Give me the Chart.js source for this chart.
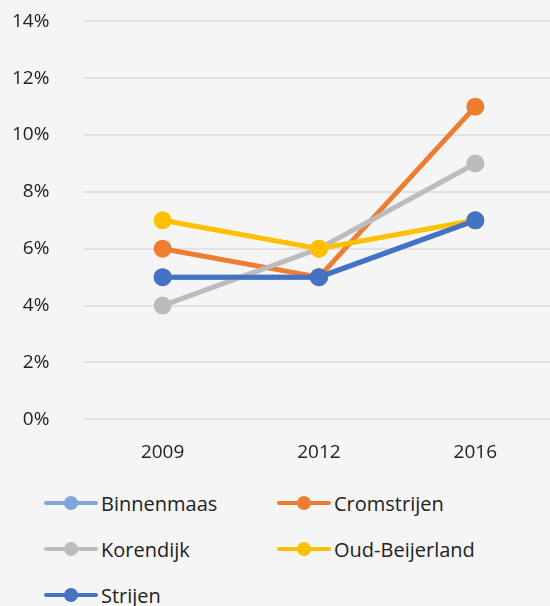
<!DOCTYPE html>
<html>
<head>
<meta charset="utf-8">
<script src="https://cdn.jsdelivr.net/npm/chart.js@4/dist/chart.umd.min.js"></script>
<style>
  html, body { margin: 0; padding: 0; background: #f5f5f5; }
  body { width: 550px; height: 606px; overflow: hidden; font-family: "Open Sans", sans-serif; color: #222; }
  #wrap { position: relative; width: 550px; height: 470px; overflow: hidden; }
  #myChart { position: absolute; left: -3px; top: -25px; }
  #legend { position: relative; width: 550px; height: 136px; }
  .item { position: absolute; height: 30px; display: flex; align-items: center; font-size: 20px; }
  .sw { position: relative; width: 54px; height: 30px; margin-right: 3px; }
  .sw .ln { position: absolute; left: 0; right: 0; top: 13px; height: 4px; border-radius: 2px; }
  .sw .dt { position: absolute; left: 20px; top: 8px; width: 14px; height: 14px; border-radius: 50%; }
</style>
</head>
<body>
<div id="wrap"><canvas id="myChart" width="568" height="495"></canvas></div>
<div id="legend"></div>
<script>
const years = ["2009", "2012", "2016"];
const seriesNames = ["Binnenmaas", "Cromstrijen", "Korendijk", "Oud-Beijerland", "Strijen"];
const seriesColors = ["#7fa7d8", "#ed7d31", "#bcbcbc", "#ffc000", "#4472c4"];
const binnenmaas = [5, 5, 7];
const cromstrijen = [6, 5, 11];
const korendijk = [4, 6, 9];
const oudBeijerland = [7, 6, 7];
const strijen = [5, 5, 7];
const yTicks = [0, 2, 4, 6, 8, 10, 12, 14];

const allValues = [binnenmaas, cromstrijen, korendijk, oudBeijerland, strijen];

// later series sit on top, like in the original
let datasets = seriesNames.map(function(name, i) {
  return {
    label: name,
    data: allValues[i],
    order: seriesNames.length - i,
    borderColor: seriesColors[i],
    backgroundColor: seriesColors[i],
    pointBackgroundColor: seriesColors[i],
    pointBorderColor: seriesColors[i],
    borderWidth: 5,
    pointRadius: 6.5,
    pointHoverRadius: 6.5,
    tension: 0
  };
});

let ctx = document.getElementById("myChart").getContext("2d");
let chart = new Chart(ctx, {
  type: "line",
  data: { labels: years, datasets: datasets },
  options: {
    responsive: false,
    animation: false,
    // chart.js leaves extra room round the axes, pull it back
    layout: { padding: { left: -20, right: -5, top: 0, bottom: -16 } },
    plugins: { legend: { display: false }, tooltip: { enabled: false } },
    scales: {
      x: {
        offset: true,
        grid: { display: false, drawTicks: false },
        border: { display: false },
        ticks: { color: "#222", padding: 22, font: { family: "Open Sans", size: 19 } }
      },
      y: {
        min: 0,
        max: 14,
        afterBuildTicks: function(axis) {
          axis.ticks = yTicks.map(function(v) { return { value: v }; });
        },
        grid: { color: "#e2e2e2", lineWidth: 2, drawTicks: false },
        border: { display: false },
        ticks: {
          color: "#222",
          padding: 35,
          font: { family: "Open Sans", size: 19 },
          callback: function(v) { return v + "%"; }
        }
      }
    }
  }
});

// legend, two columns like the original
const legendPos = [[44, 488], [277, 488], [44, 534], [277, 534], [44, 580]];
const legendEl = document.getElementById("legend");
seriesNames.forEach(function(name, i) {
  let item = document.createElement("div");
  item.className = "item";
  item.style.left = legendPos[i][0] + "px";
  item.style.top = (legendPos[i][1] - 470) + "px";
  item.innerHTML = '<div class="sw"><div class="ln" style="background:' + seriesColors[i] +
    '"></div><div class="dt" style="background:' + seriesColors[i] + '"></div></div>' + name;
  legendEl.appendChild(item);
});
</script>
</body>
</html>
